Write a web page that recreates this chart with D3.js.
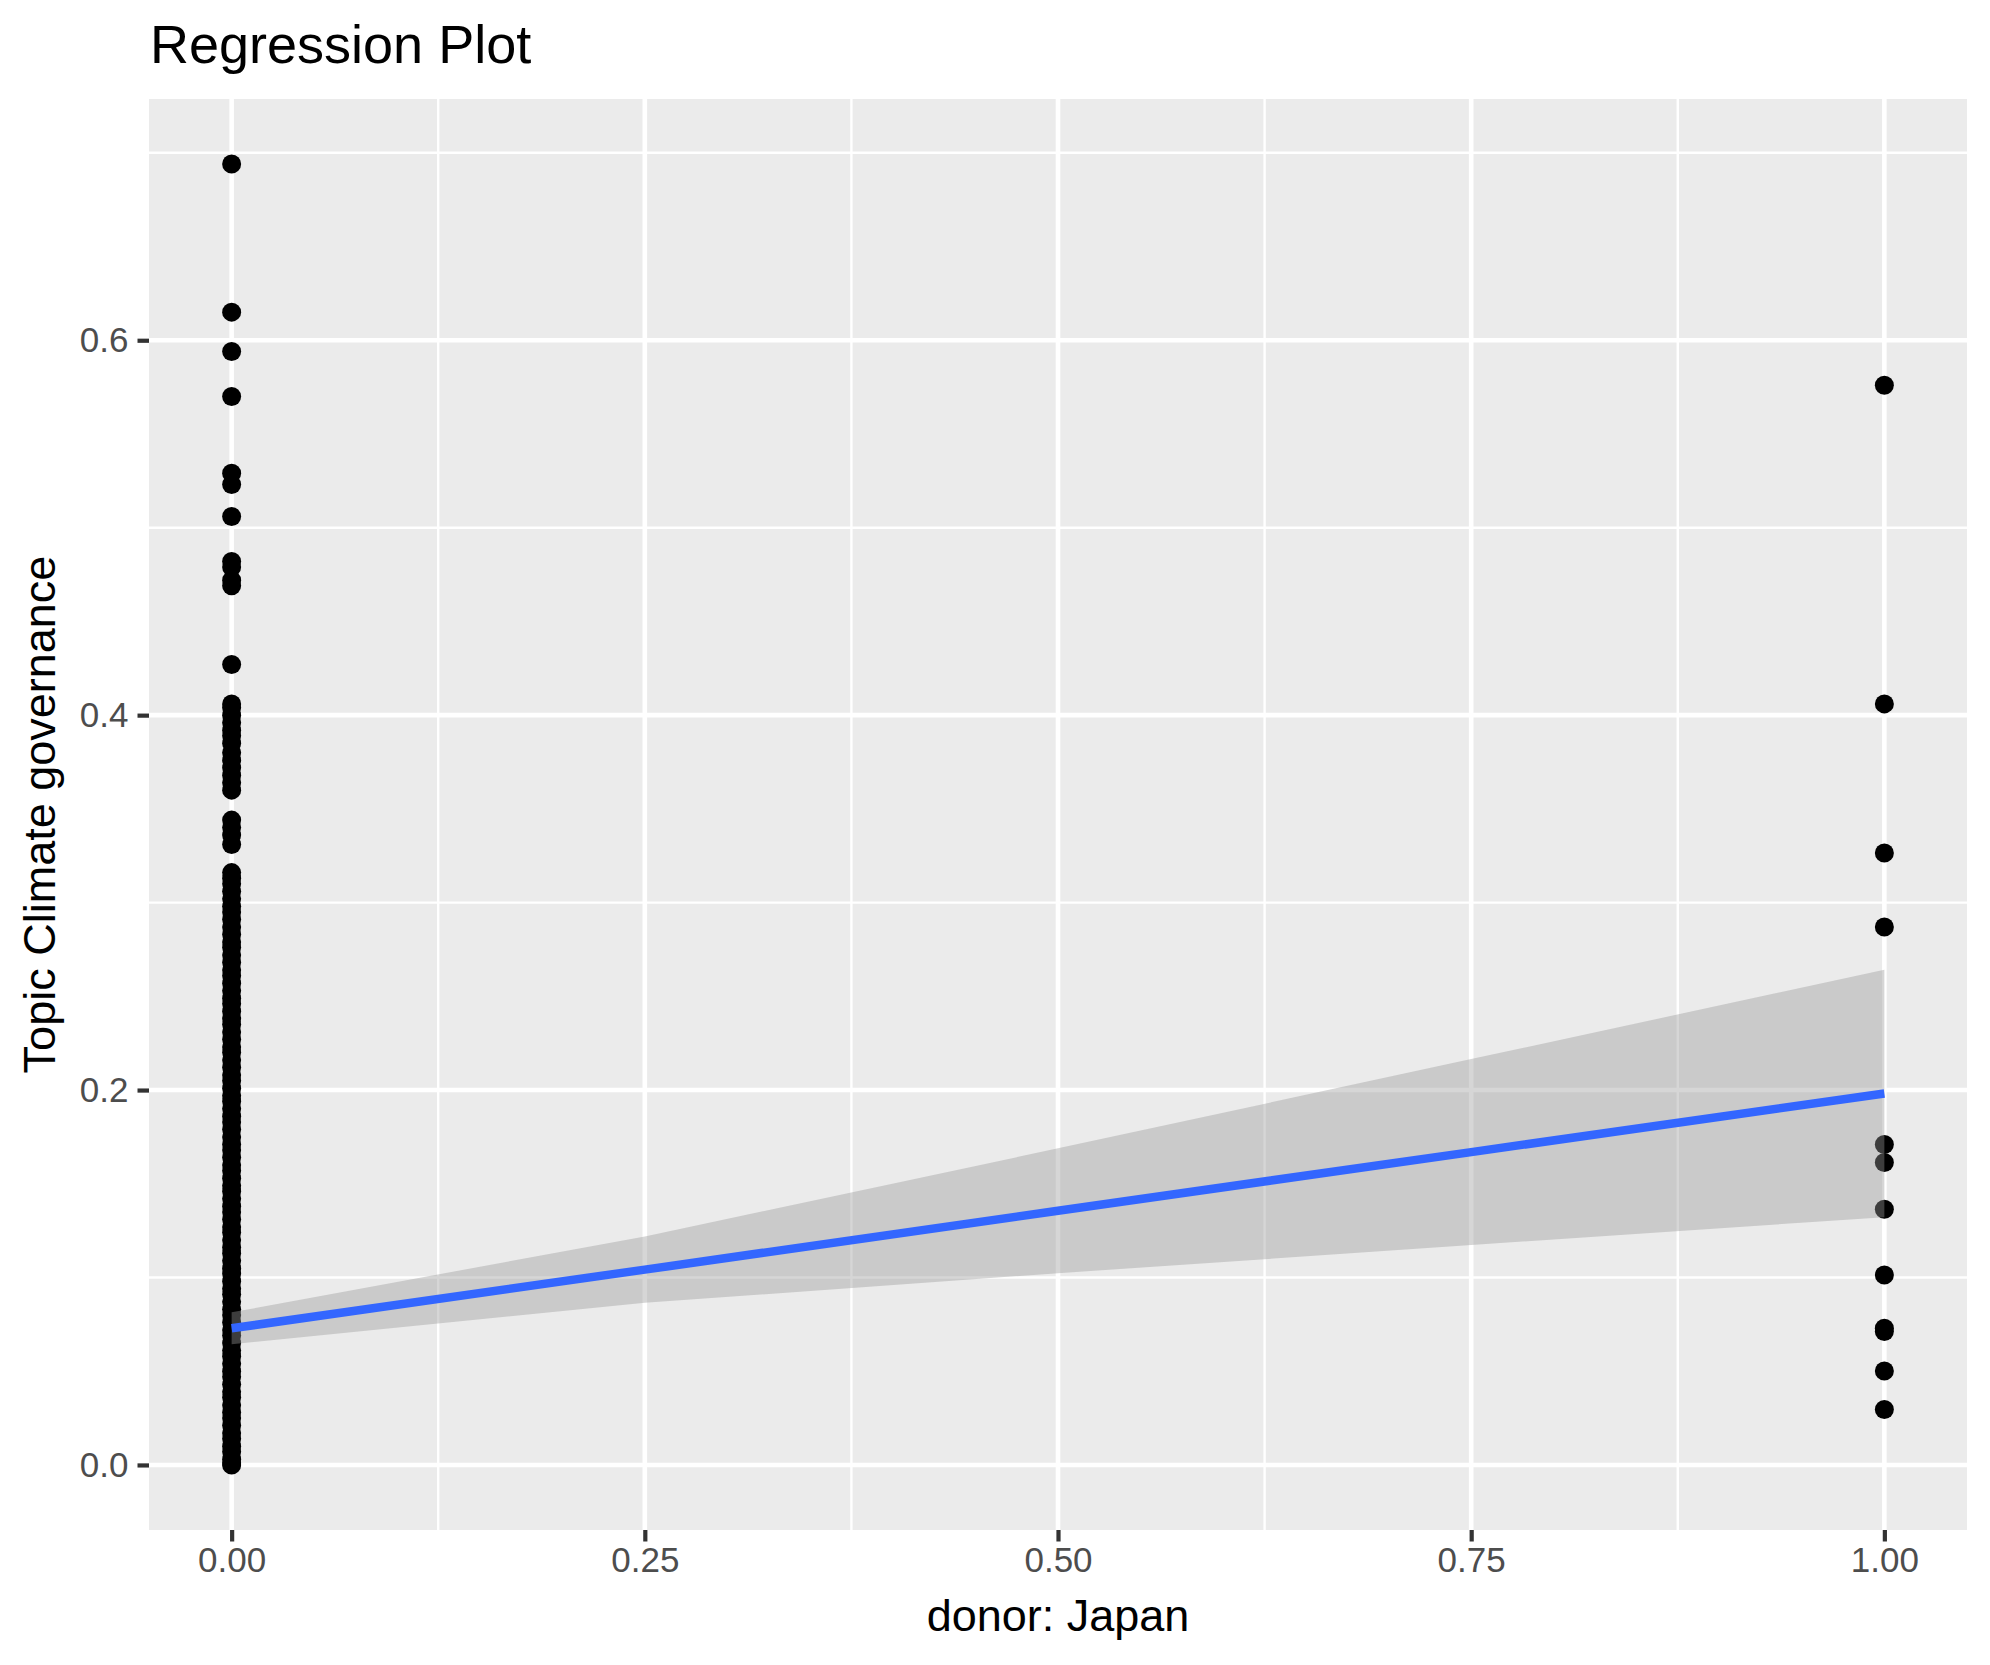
<!DOCTYPE html>
<html>
<head>
<meta charset="utf-8">
<script src="https://cdn.jsdelivr.net/npm/d3@7"></script>
<style>
  html, body { margin: 0; padding: 0; background: #ffffff; }
  svg { display: block; }
  text { font-family: "Liberation Sans", Arial, Helvetica, sans-serif; }
</style>
</head>
<body>
<svg id="chart" width="1990" height="1665"></svg>
<script>
// ---------------- Data ----------------
const chartTitle = "Regression Plot";
const xTitle = "donor: Japan";
const yTitle = "Topic Climate governance";

// donor: Japan = 0 (topic proportions)
const valuesDonor0 = [
  0.694, 0.615, 0.594, 0.570, 0.529, 0.523, 0.506, 0.482, 0.479, 0.472, 0.469, 0.427,
  0.406, 0.404, 0.400, 0.396, 0.392, 0.389, 0.385, 0.380, 0.376, 0.372, 0.368, 0.364, 0.360,
  0.344, 0.340, 0.336, 0.331, 0.316, 0.313, 0.310,
  0.306, 0.302, 0.298, 0.295, 0.291, 0.287, 0.283, 0.279, 0.276, 0.272, 0.268, 0.264,
  0.261, 0.257, 0.253, 0.249, 0.246, 0.242, 0.238, 0.235, 0.231, 0.227, 0.223, 0.220,
  0.216, 0.212, 0.208, 0.205, 0.201, 0.197, 0.194, 0.190, 0.186, 0.183, 0.179, 0.175,
  0.171, 0.168, 0.164, 0.160, 0.157, 0.153, 0.149, 0.146, 0.142, 0.138, 0.135, 0.131,
  0.127, 0.124, 0.120, 0.116, 0.113, 0.109, 0.105, 0.102, 0.098, 0.094, 0.091, 0.087,
  0.083, 0.080, 0.076, 0.072, 0.069, 0.065, 0.061, 0.058, 0.054, 0.050, 0.047, 0.043,
  0.039, 0.036, 0.032, 0.028, 0.025, 0.021, 0.017, 0.014, 0.010, 0.007, 0.003, 0.001, 0.000
];

// donor: Japan = 1
const valuesDonor1 = [0.576, 0.406, 0.3265, 0.287, 0.171, 0.1614, 0.1364, 0.1013, 0.0729, 0.0712, 0.0501, 0.0296];

// fitted linear smooth (lm) with 95% confidence band
const fitX     = [0, 0.25, 0.5, 0.75, 1];
const fitY     = [0.0729, 0.1042, 0.1356, 0.1669, 0.1982];
const fitLower = [0.0644, 0.0865, 0.1023, 0.1173, 0.1322];
const fitUpper = [0.0814, 0.1219, 0.1689, 0.2165, 0.2642];

const xMajor = [0, 0.25, 0.5, 0.75, 1];
const xMinor = [0.125, 0.375, 0.625, 0.875];
const xTickLabels = ["0.00", "0.25", "0.50", "0.75", "1.00"];
const yMajor = [0, 0.2, 0.4, 0.6];
const yMinor = [0.1, 0.3, 0.5, 0.7];
const yTickLabels = ["0.0", "0.2", "0.4", "0.6"];

// ---------------- Layout ----------------
const W = 1990, H = 1665;
const panel = { left: 149, right: 1967, top: 99, bottom: 1530 };

const points = [
  ...valuesDonor0.map(v => ({ x: 0, y: v })),
  ...valuesDonor1.map(v => ({ x: 1, y: v }))
];

const xExt = d3.extent(points, d => d.x);
const yExt = d3.extent(points, d => d.y);
const xPad = (xExt[1] - xExt[0]) * 0.05;
const yPad = (yExt[1] - yExt[0]) * 0.05;

const x = d3.scaleLinear().domain([xExt[0] - xPad, xExt[1] + xPad]).range([panel.left, panel.right]);
const y = d3.scaleLinear().domain([yExt[0] - yPad, yExt[1] + yPad]).range([panel.bottom, panel.top]);

const svg = d3.select("#chart");
svg.append("rect").attr("x", 0).attr("y", 0).attr("width", W).attr("height", H).attr("fill", "#ffffff");

// panel background
svg.append("rect")
  .attr("x", panel.left).attr("y", panel.top)
  .attr("width", panel.right - panel.left).attr("height", panel.bottom - panel.top)
  .attr("fill", "#EBEBEB");

const grid = svg.append("g");
// minor grid
grid.selectAll("line.ymin").data(yMinor).join("line")
  .attr("x1", panel.left).attr("x2", panel.right)
  .attr("y1", d => y(d)).attr("y2", d => y(d))
  .attr("stroke", "#ffffff").attr("stroke-width", 2.4);
grid.selectAll("line.xmin").data(xMinor).join("line")
  .attr("y1", panel.top).attr("y2", panel.bottom)
  .attr("x1", d => x(d)).attr("x2", d => x(d))
  .attr("stroke", "#ffffff").attr("stroke-width", 2.4);
// major grid
grid.selectAll("line.ymaj").data(yMajor).join("line")
  .attr("x1", panel.left).attr("x2", panel.right)
  .attr("y1", d => y(d)).attr("y2", d => y(d))
  .attr("stroke", "#ffffff").attr("stroke-width", 4.6);
grid.selectAll("line.xmaj").data(xMajor).join("line")
  .attr("y1", panel.top).attr("y2", panel.bottom)
  .attr("x1", d => x(d)).attr("x2", d => x(d))
  .attr("stroke", "#ffffff").attr("stroke-width", 4.6);

// points
svg.append("g").selectAll("circle").data(points).join("circle")
  .attr("cx", d => x(d.x)).attr("cy", d => y(d.y))
  .attr("r", 9.5).attr("fill", "#000000");

// confidence band
const band = fitX.map((xv, i) => ({ x: xv, lo: fitLower[i], hi: fitUpper[i] }));
svg.append("path").datum(band)
  .attr("d", d3.area().x(d => x(d.x)).y0(d => y(d.lo)).y1(d => y(d.hi)))
  .attr("fill", "#999999").attr("fill-opacity", 0.4);

// fitted line
const fit = fitX.map((xv, i) => ({ x: xv, y: fitY[i] }));
svg.append("path").datum(fit)
  .attr("d", d3.line().x(d => x(d.x)).y(d => y(d.y)))
  .attr("fill", "none").attr("stroke", "#3366FF").attr("stroke-width", 8.5);

// axes
const xAxis = d3.axisBottom(x).tickValues(xMajor)
  .tickFormat((d, i) => xTickLabels[i]).tickSize(11.5).tickPadding(6);
const gx = svg.append("g").attr("transform", `translate(0,${panel.bottom})`).call(xAxis);
gx.select(".domain").remove();
gx.selectAll(".tick line").attr("stroke", "#333333").attr("stroke-width", 4.2);
gx.selectAll(".tick text").attr("fill", "#4D4D4D").attr("font-size", 35)
  .attr("font-family", "Liberation Sans, Arial, sans-serif");

const yAxis = d3.axisLeft(y).tickValues(yMajor)
  .tickFormat((d, i) => yTickLabels[i]).tickSize(11.5).tickPadding(9);
const gy = svg.append("g").attr("transform", `translate(${panel.left},0)`).call(yAxis);
gy.select(".domain").remove();
gy.selectAll(".tick line").attr("stroke", "#333333").attr("stroke-width", 4.2);
gy.selectAll(".tick text").attr("fill", "#4D4D4D").attr("font-size", 35)
  .attr("font-family", "Liberation Sans, Arial, sans-serif");

// titles
svg.append("text").attr("x", 150).attr("y", 63)
  .attr("font-size", 54).attr("fill", "#000000").text(chartTitle);

svg.append("text")
  .attr("x", (panel.left + panel.right) / 2).attr("y", 1631)
  .attr("text-anchor", "middle").attr("font-size", 45).attr("fill", "#000000")
  .text(xTitle);

svg.append("text")
  .attr("transform", `translate(55,${(panel.top + panel.bottom) / 2}) rotate(-90)`)
  .attr("text-anchor", "middle").attr("font-size", 45).attr("fill", "#000000")
  .text(yTitle);
</script>
</body>
</html>
